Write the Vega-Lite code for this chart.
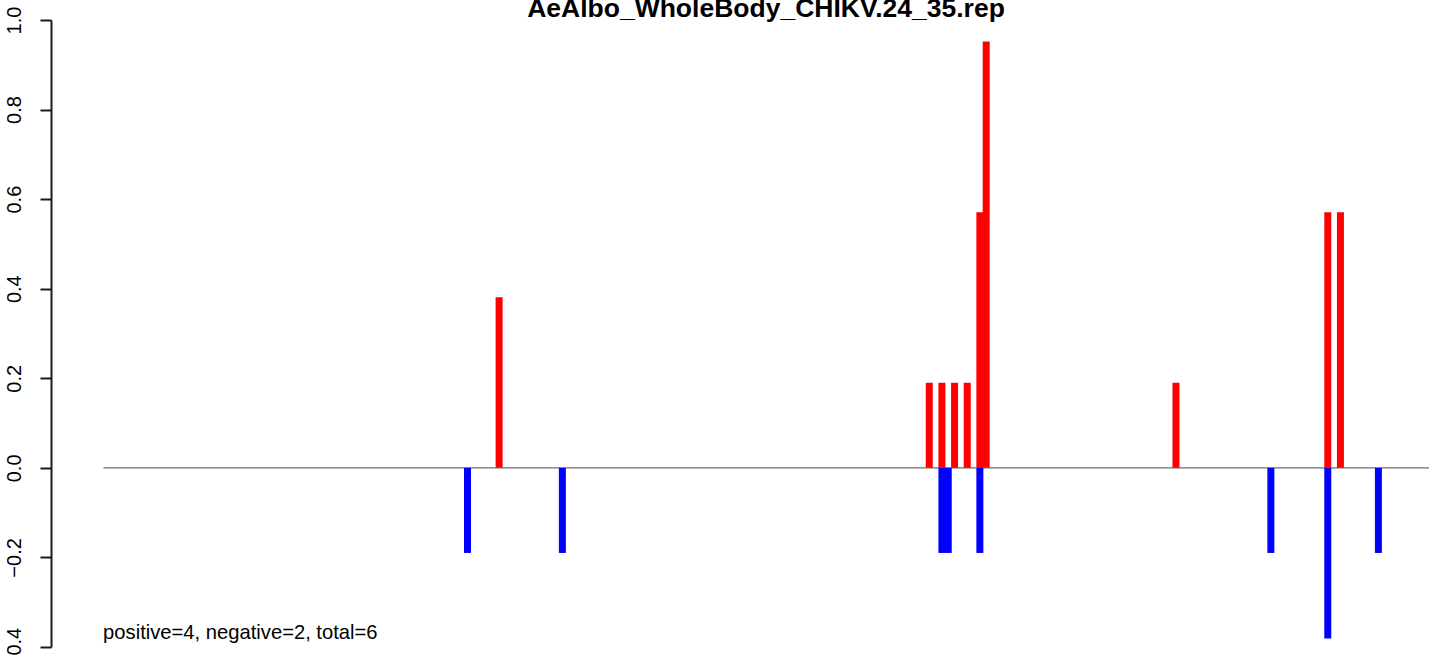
{
  "$schema": "https://vega.github.io/schema/vega-lite/v6.json",
  "width": 1378,
  "height": 627,
  "autosize": {"type": "none"},
  "padding": {"left": 51, "top": 20, "right": 0, "bottom": 8},
  "background": "white",
  "config": {"view": {"stroke": null, "fill": null}, "font": "Liberation Sans", "axis": {"domain": true, "ticks": true}},
  "title": {
    "text": "AeAlbo_WholeBody_CHIKV.24_35.rep",
    "fontSize": 26.5,
    "fontWeight": "bold",
    "font": "Liberation Sans",
    "color": "black",
    "anchor": "middle",
    "frame": "group",
    "dx": 26,
    "offset": -37,
    "baseline": "alphabetic"
  },
  "datasets": {
    "bars": [
      {"pos": 58, "value": -0.19, "sign": "negative"},
      {"pos": 63, "value": 0.381, "sign": "positive"},
      {"pos": 73, "value": -0.19, "sign": "negative"},
      {"pos": 131, "value": 0.19, "sign": "positive"},
      {"pos": 133, "value": 0.19, "sign": "positive"},
      {"pos": 135, "value": 0.19, "sign": "positive"},
      {"pos": 137, "value": 0.19, "sign": "positive"},
      {"pos": 139, "value": 0.571, "sign": "positive"},
      {"pos": 140, "value": 0.952, "sign": "positive"},
      {"pos": 133, "value": -0.19, "sign": "negative"},
      {"pos": 134, "value": -0.19, "sign": "negative"},
      {"pos": 139, "value": -0.19, "sign": "negative"},
      {"pos": 170, "value": 0.19, "sign": "positive"},
      {"pos": 185, "value": -0.19, "sign": "negative"},
      {"pos": 194, "value": 0.571, "sign": "positive"},
      {"pos": 194, "value": -0.381, "sign": "negative"},
      {"pos": 196, "value": 0.571, "sign": "positive"},
      {"pos": 202, "value": -0.19, "sign": "negative"}
    ],
    "base": [{"start": 0.45, "end": 210, "level": 0}],
    "note": [{"pos": 0.4, "y": -0.382, "label": "positive=4, negative=2, total=6"}]
  },
  "encoding": {
    "y": {
      "type": "quantitative",
      "scale": {"domain": [-0.4, 1.0], "nice": false, "zero": false},
      "axis": {
        "title": null,
        "values": [-0.4, -0.2, 0, 0.2, 0.4, 0.6, 0.8, 1.0],
        "format": ".1f",
        "labelAngle": -90,
        "labelAlign": "center",
        "labelBaseline": "alphabetic",
        "labelFontSize": 20,
        "labelFont": "Liberation Sans",
        "labelColor": "black",
        "labelPadding": 20,
        "labelOverlap": false,
        "labelFlush": false,
        "domain": true,
        "ticks": true,
        "tickSize": 11,
        "tickColor": "#1a1a1a",
        "tickWidth": 2,
        "tickOpacity": 1,
        "domainColor": "#1a1a1a",
        "domainWidth": 2,
        "domainOpacity": 1,
        "grid": false,
        "zindex": 2
      }
    }
  },
  "layer": [
    {
      "data": {"name": "base"},
      "mark": {"type": "rule", "color": "#6e6e6e", "strokeWidth": 1.3},
      "encoding": {
        "x": {"field": "start", "type": "quantitative", "scale": {"domain": [-7.84, 210], "nice": false, "zero": false, "padding": 0}, "axis": null},
        "x2": {"field": "end"},
        "y": {"field": "level", "type": "quantitative"}
      }
    },
    {
      "data": {"name": "bars"},
      "mark": {"type": "bar", "width": 7},
      "encoding": {
        "x": {"field": "pos", "type": "quantitative", "scale": {"domain": [-7.84, 210], "nice": false, "zero": false, "padding": 0}, "axis": null},
        "y": {"field": "value", "type": "quantitative", "stack": null},
        "y2": {"datum": 0},
        "color": {
          "field": "sign",
          "type": "nominal",
          "scale": {"domain": ["positive", "negative"], "range": ["#FF0000", "#0000FF"]},
          "legend": null
        }
      }
    },
    {
      "data": {"name": "note"},
      "mark": {"type": "text", "align": "left", "baseline": "alphabetic", "fontSize": 20.2, "font": "Liberation Sans", "color": "black"},
      "encoding": {
        "x": {"field": "pos", "type": "quantitative", "scale": {"domain": [-7.84, 210], "nice": false, "zero": false, "padding": 0}, "axis": null},
        "y": {"field": "y", "type": "quantitative"},
        "text": {"field": "label"}
      }
    }
  ]
}
